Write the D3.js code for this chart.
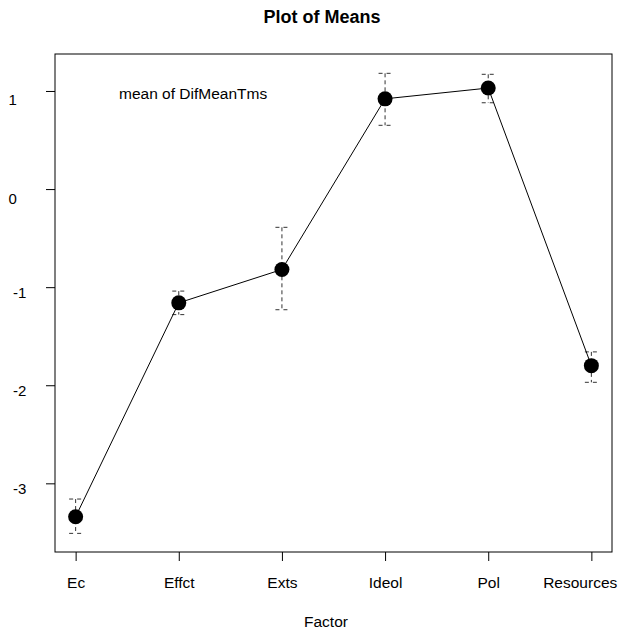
<!DOCTYPE html>
<html>
<head>
<meta charset="utf-8">
<script src="https://cdn.jsdelivr.net/npm/d3@7"></script>
<style>
  body { margin: 0; background: #fff; }
  svg { display: block; }
  text { font-family: Arial, "Liberation Sans", sans-serif; }
</style>
</head>
<body>
<svg id="chart" width="619" height="631"></svg>
<script>
const categories = ["Ec", "Effct", "Exts", "Ideol", "Pol", "Resources"];
const means = [-3.34, -1.16, -0.82, 0.92, 1.03, -1.80];
const upper = [-3.16, -1.04, -0.39, 1.18, 1.17, -1.66];
const lower = [-3.51, -1.28, -1.23, 0.65, 0.88, -1.97];
const yTicks = [-3, -2, -1, 0, 1];
const titleText = "Plot of Means";
const legendText = "mean of DifMeanTms";
const xTitle = "Factor";

(function () {
const svg = d3.select("#chart");
const W = 619;
const mLeft = 55, mRight = 612, mTop = 54, mBottom = 552;

const x = d3.scaleLinear().domain([0.8, 6.2]).range([mLeft, mRight]);
const y = d3.scaleLinear().domain([-3.70, 1.377]).range([mBottom, mTop]);

// box
svg.append("rect").attr("x", mLeft).attr("y", mTop)
  .attr("width", mRight - mLeft).attr("height", mBottom - mTop)
  .attr("fill", "none").attr("stroke", "#000").attr("stroke-width", 1);

// x axis
const xAxis = d3.axisBottom(x).tickValues(d3.range(1, categories.length + 1))
  .tickFormat(i => categories[i - 1]).tickSize(9).tickPadding(16).tickSizeOuter(0);
const gx = svg.append("g").attr("transform", `translate(0,${mBottom})`).call(xAxis);
gx.select(".domain").remove();
gx.selectAll(".tick line").attr("stroke", "#000");
gx.selectAll(".tick text").attr("font-size", 15.5).attr("fill", "#000");
// keep labels inside the page, as the reference does for "Resources"
gx.selectAll(".tick").each(function (d) {
  const t = d3.select(this).select("text");
  const bb = t.node().getBBox();
  const absRight = x(d) + bb.x + bb.width;
  if (absRight > W - 2) t.attr("x", (W - 2) - absRight);
});

// y axis
const yAxis = d3.axisLeft(y).tickValues(yTicks).tickSize(9).tickFormat(d => String(d));
const gy = svg.append("g").attr("transform", `translate(${mLeft},0)`).call(yAxis);
gy.select(".domain").remove();
gy.selectAll(".tick line").attr("stroke", "#000");
gy.selectAll(".tick text")
  .attr("font-size", 15).attr("fill", "#000")
  .attr("text-anchor", "start").attr("dy", null)
  .attr("x", d => (d < 0 ? 13 : 8.5) - mLeft)
  .attr("y", d => d < 0 ? 10 : 14);

// error bars
const eb = svg.append("g");
categories.forEach((c, i) => {
  const cx = x(i + 1);
  eb.append("line").attr("x1", cx).attr("x2", cx)
    .attr("y1", y(upper[i])).attr("y2", y(lower[i]))
    .attr("stroke", "#333").attr("stroke-width", 1).attr("stroke-dasharray", "4,3");
  [upper[i], lower[i]].forEach(v => {
    eb.append("line").attr("x1", cx - 6.5).attr("x2", cx + 6.5)
      .attr("y1", y(v)).attr("y2", y(v))
      .attr("stroke", "#333").attr("stroke-width", 1).attr("stroke-dasharray", "4,4");
  });
});

// line
const line = d3.line().x((d, i) => x(i + 1)).y(d => y(d));
svg.append("path").datum(means).attr("d", line)
  .attr("fill", "none").attr("stroke", "#000").attr("stroke-width", 1);

// points
svg.append("g").selectAll("circle").data(means).join("circle")
  .attr("cx", (d, i) => x(i + 1)).attr("cy", d => y(d)).attr("r", 7.5)
  .attr("fill", "#000");

// title
svg.append("text").attr("x", 322).attr("y", 23).attr("text-anchor", "middle")
  .attr("font-size", 18).attr("font-weight", "bold").text(titleText);

// legend text
svg.append("text").attr("x", 119).attr("y", 99).attr("font-size", 15.5).text(legendText);

// x title
svg.append("text").attr("x", 326).attr("y", 627).attr("text-anchor", "middle")
  .attr("font-size", 15.5).text(xTitle);
})();
</script>
</body>
</html>
